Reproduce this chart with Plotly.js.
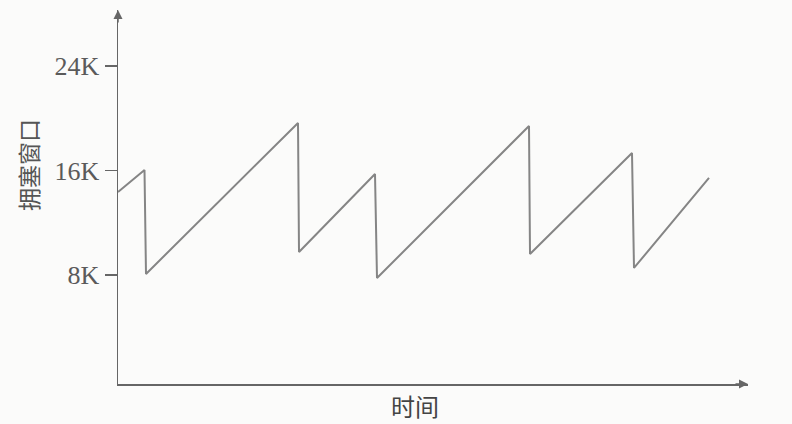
<!DOCTYPE html>
<html>
<head>
<meta charset="utf-8">
<script src="https://cdn.plot.ly/plotly-3.0.1.min.js"></script>
<style>html,body{margin:0;padding:0;background:#fbfbfa;}#chart{width:792px;height:424px;}</style>
</head>
<body>
<div id="chart"></div>
<script>
// time (arbitrary units) and congestion window (bytes)
const timePoints = [0, 2.65, 2.8, 18.0, 18.1, 25.7, 25.9, 41.1, 41.2, 51.4, 51.6, 59.1];
const cwndValues = [14360, 16040, 8080, 19640, 9760, 15730, 7770, 19410, 9610, 17340, 8540, 15430];
const yTickValues = [8000, 16000, 24000];
const yTickLabels = ['8K', '16K', '24K'];
const yTitle = '拥塞窗口';
const xTitle = '时间';

const axisColor = '#666666';
const trace = {
  x: timePoints, y: cwndValues, type: 'scatter', mode: 'lines',
  line: {color: '#858585', width: 2}, hoverinfo: 'skip'
};
const layout = {
  width: 792, height: 424,
  margin: {l: 118, r: 44, t: 10, b: 40},
  paper_bgcolor: '#fbfbfa', plot_bgcolor: '#fbfbfa',
  showlegend: false,
  xaxis: {range: [0, 63], showline: true, linecolor: axisColor, linewidth: 1.5,
          showgrid: false, zeroline: false, showticklabels: false, ticks: ''},
  yaxis: {range: [-345, 28290], showline: true, linecolor: axisColor, linewidth: 1.5,
          showgrid: false, zeroline: false, tickvals: yTickValues, ticktext: yTickLabels,
          ticks: 'outside', ticklen: 12, tickwidth: 1.5, tickcolor: axisColor, ticklabelstandoff: 0,
          tickfont: {family: 'Liberation Serif, serif', size: 26, color: '#5a5a5a'}},
  annotations: [
    {xref: 'paper', yref: 'paper', x: 1, y: 0, ax: -14, ay: 0, text: '', showarrow: true,
     arrowhead: 2, arrowsize: 1.2, arrowwidth: 1.5, arrowcolor: axisColor, standoff: 0},
    {xref: 'paper', yref: 'paper', x: 0, y: 1, ax: 0, ay: 14, text: '', showarrow: true,
     arrowhead: 2, arrowsize: 1.2, arrowwidth: 1.5, arrowcolor: axisColor, standoff: 0},
    {xref: 'paper', yref: 'paper', x: -90/630, y: (384-165)/374, text: yTitle, textangle: -90,
     showarrow: false, xanchor: 'center', yanchor: 'middle',
     font: {family: 'Noto Sans CJK SC, sans-serif', size: 23, color: '#555555'}},
    {xref: 'paper', yref: 'paper', x: (415-118)/630, y: -40/374, text: xTitle,
     showarrow: false, xanchor: 'center', yanchor: 'bottom', borderpad: 0,
     font: {family: 'Noto Sans CJK SC, sans-serif', size: 24, color: '#444444'}}
  ]
};
Plotly.newPlot('chart', [trace], layout, {staticPlot: true, displayModeBar: false});
</script>
</body>
</html>
